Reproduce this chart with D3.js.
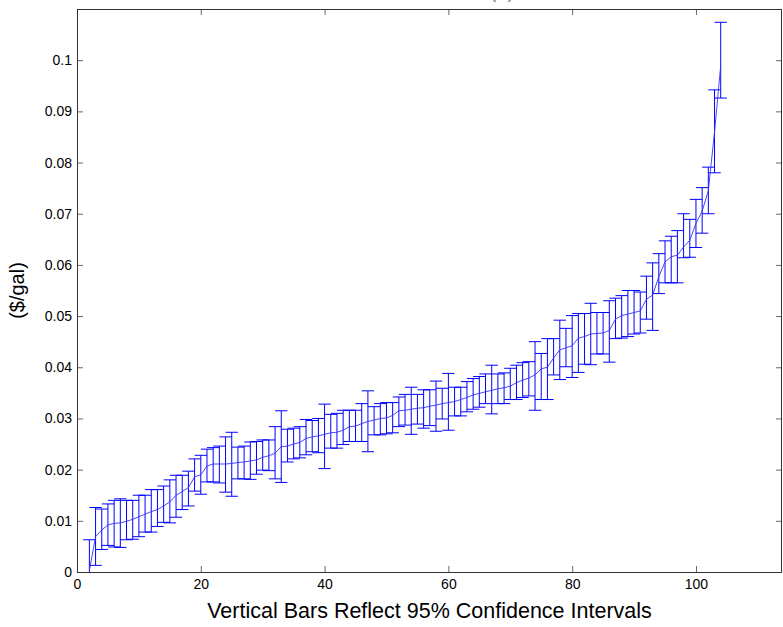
<!DOCTYPE html>
<html>
<head>
<meta charset="utf-8">
<script src="https://cdn.jsdelivr.net/npm/d3@7"></script>
<style>
  body { margin: 0; background: #fff; }
  svg { display: block; }
  text { font-family: "Liberation Sans", Arial, Helvetica, sans-serif; }
</style>
</head>
<body>
<div id="chart"></div>
<script>
// series: x = 2..104
const xs = d3.range(2, 105);
const means = [
  0.0003, 0.0069, 0.0082, 0.0092, 0.0095, 0.0096, 0.0099, 0.0103, 0.0108, 0.0113,
  0.0118, 0.0122, 0.0129, 0.0137, 0.0150, 0.0157, 0.0165, 0.0186, 0.0190, 0.0207,
  0.0211, 0.0211, 0.0211, 0.0212, 0.0214, 0.0215, 0.0217, 0.0219, 0.0224, 0.0227,
  0.0232, 0.0245, 0.0246, 0.0250, 0.0253, 0.0261, 0.0264, 0.0266, 0.0269, 0.0272,
  0.0273, 0.0277, 0.0284, 0.0285, 0.0290, 0.0294, 0.0297, 0.0300, 0.0301, 0.0306,
  0.0315, 0.0316, 0.0318, 0.0320, 0.0321, 0.0324, 0.0326, 0.0329, 0.0331, 0.0333,
  0.0337, 0.0341, 0.0346, 0.0349, 0.0352, 0.0355, 0.0358, 0.0360, 0.0363, 0.0370,
  0.0375, 0.0379, 0.0385, 0.0397, 0.0400, 0.0418, 0.0434, 0.0438, 0.0442, 0.0457,
  0.0460, 0.0465, 0.0466, 0.0467, 0.0472, 0.0494, 0.0501, 0.0504, 0.0507, 0.0510,
  0.0533, 0.0541, 0.0577, 0.0606, 0.0616, 0.0619, 0.0635, 0.0648, 0.0681, 0.0705,
  0.0745, 0.0860, 0.0990
];
const lowers = [
  -0.0060, 0.0013, 0.0044, 0.0052, 0.0049, 0.0048, 0.0063, 0.0064, 0.0069, 0.0078,
  0.0078, 0.0089, 0.0097, 0.0096, 0.0107, 0.0122, 0.0129, 0.0158, 0.0152, 0.0176,
  0.0176, 0.0174, 0.0156, 0.0148, 0.0182, 0.0182, 0.0181, 0.0191, 0.0199, 0.0198,
  0.0182, 0.0175, 0.0215, 0.0221, 0.0223, 0.0229, 0.0235, 0.0233, 0.0202, 0.0242,
  0.0242, 0.0249, 0.0255, 0.0255, 0.0255, 0.0235, 0.0268, 0.0268, 0.0270, 0.0272,
  0.0284, 0.0287, 0.0269, 0.0289, 0.0281, 0.0286, 0.0275, 0.0299, 0.0277, 0.0305,
  0.0305, 0.0313, 0.0318, 0.0322, 0.0329, 0.0309, 0.0329, 0.0329, 0.0337, 0.0337,
  0.0341, 0.0344, 0.0316, 0.0337, 0.0337, 0.0385, 0.0376, 0.0401, 0.0380, 0.0390,
  0.0406, 0.0405, 0.0426, 0.0426, 0.0410, 0.0456, 0.0457, 0.0460, 0.0465, 0.0467,
  0.0494, 0.0472, 0.0544, 0.0565, 0.0565, 0.0565, 0.0614, 0.0615, 0.0634, 0.0662,
  0.0700, 0.0780, 0.0926
];
const uppers = [
  0.0063, 0.0126, 0.0123, 0.0133, 0.0140, 0.0143, 0.0140, 0.0140, 0.0150, 0.0150,
  0.0161, 0.0161, 0.0168, 0.0180, 0.0189, 0.0189, 0.0197, 0.0221, 0.0228, 0.0240,
  0.0243, 0.0246, 0.0264, 0.0273, 0.0244, 0.0246, 0.0254, 0.0255, 0.0258, 0.0258,
  0.0284, 0.0315, 0.0279, 0.0281, 0.0284, 0.0298, 0.0296, 0.0300, 0.0328, 0.0308,
  0.0310, 0.0316, 0.0316, 0.0316, 0.0329, 0.0354, 0.0323, 0.0329, 0.0331, 0.0331,
  0.0342, 0.0347, 0.0361, 0.0347, 0.0356, 0.0356, 0.0373, 0.0359, 0.0388, 0.0361,
  0.0361, 0.0372, 0.0378, 0.0382, 0.0387, 0.0404, 0.0387, 0.0389, 0.0398, 0.0404,
  0.0409, 0.0411, 0.0450, 0.0427, 0.0456, 0.0456, 0.0492, 0.0476, 0.0501, 0.0505,
  0.0505, 0.0525, 0.0507, 0.0507, 0.0530, 0.0535, 0.0540, 0.0550, 0.0550, 0.0547,
  0.0578, 0.0604, 0.0622, 0.0647, 0.0656, 0.0667, 0.0700, 0.0689, 0.0728, 0.0751,
  0.0791, 0.0942, 0.1074
];

const xTicks = [0, 20, 40, 60, 80, 100];
const yTicks = [0, 0.01, 0.02, 0.03, 0.04, 0.05, 0.06, 0.07, 0.08, 0.09, 0.1];

const titleText = "(b)";
const xLabel = "Vertical Bars Reflect 95% Confidence Intervals";
const yLabel = "($/gal)";

const DATA = xs.map((x, i) => ({x: x, mean: means[i], lo: lowers[i], hi: uppers[i]}));

// dimensions
var W = 783, H = 627;
var margin = {top: 9, right: 1, bottom: 55, left: 77},
    width = W - margin.left - margin.right,
    height = H - margin.top - margin.bottom;

var svg = d3.select("#chart")
    .append("svg")
    .attr("width", W)
    .attr("height", H);

var g = svg.append("g")
    .attr("transform", "translate(" + margin.left + "," + margin.top + ")");

const scaleX = d3.scaleLinear()
    .domain([0, 113.9])
    .range([0, width]);

const scaleY = d3.scaleLinear()
    .domain([0, 0.11])
    .range([height, 0]);

g.append("clipPath")
    .attr("id", "plotclip")
    .append("rect")
    .attr("width", width)
    .attr("height", height);

const plot = g.append("g").attr("clip-path", "url(#plotclip)");

// error bars
const cap = scaleX(1) - scaleX(0);
const bars = plot.selectAll("g.bar")
    .data(DATA)
    .enter()
    .append("g")
    .attr("class", "bar")
    .attr("stroke", "#0000ff")
    .attr("stroke-width", 1);

bars.append("line")
    .attr("x1", d => scaleX(d.x)).attr("x2", d => scaleX(d.x))
    .attr("y1", d => scaleY(d.lo)).attr("y2", d => scaleY(d.hi));
bars.append("line")
    .attr("x1", d => scaleX(d.x) - cap).attr("x2", d => scaleX(d.x) + cap)
    .attr("y1", d => scaleY(d.hi)).attr("y2", d => scaleY(d.hi));
bars.append("line")
    .attr("x1", d => scaleX(d.x) - cap).attr("x2", d => scaleX(d.x) + cap)
    .attr("y1", d => scaleY(d.lo)).attr("y2", d => scaleY(d.lo));

// mean line
const linePathCreator = d3.line()
    .x(d => scaleX(d.x))
    .y(d => scaleY(d.mean));

plot.append("path")
    .attr("d", linePathCreator(DATA))
    .attr("fill", "none")
    .attr("stroke", "#3333ff")
    .attr("stroke-width", 0.9);

// axes, ticks pointing inward (box on)
const fmt = d3.format("~g");
const styleAxis = sel => {
  sel.select(".domain").remove();
  sel.selectAll(".tick line").attr("stroke", "#666");
  sel.selectAll(".tick text")
    .attr("fill", "#000")
    .style("font-size", "14px")
    .style("font-family", '"Liberation Sans", Arial, sans-serif');
};

g.append("g")
    .attr("transform", "translate(0," + height + ")")
    .call(d3.axisBottom(scaleX).tickValues(xTicks).tickFormat(fmt).tickSize(-6).tickPadding(7))
    .call(styleAxis);

g.append("g")
    .call(d3.axisTop(scaleX).tickValues(xTicks).tickFormat("").tickSize(-6))
    .call(styleAxis);

g.append("g")
    .call(d3.axisLeft(scaleY).tickValues(yTicks).tickFormat(fmt).tickSize(-6).tickPadding(5))
    .call(styleAxis);

g.append("g")
    .attr("transform", "translate(" + width + ",0)")
    .call(d3.axisRight(scaleY).tickValues(yTicks).tickFormat("").tickSize(-6))
    .call(styleAxis);

g.append("rect")
    .attr("x", 0.5).attr("y", 0.5)
    .attr("width", width - 1).attr("height", height)
    .attr("fill", "none")
    .attr("stroke", "#333")
    .attr("stroke-width", 1);

// labels
svg.append("text")
    .attr("x", margin.left + width / 2)
    .attr("y", 618)
    .attr("text-anchor", "middle")
    .style("font-size", "21.5px")
    .text(xLabel);

svg.append("text")
    .attr("transform", "translate(24," + (margin.top + height / 2) + ") rotate(-90)")
    .attr("text-anchor", "middle")
    .style("font-size", "20px")
    .text(yLabel);

// title sits mostly above the picture, as in the reference
svg.append("text")
    .attr("x", 502)
    .attr("y", -2)
    .attr("text-anchor", "middle")
    .style("font-size", "20px")
    .attr("fill", "#888")
    .text(titleText);
</script>
</body>
</html>
